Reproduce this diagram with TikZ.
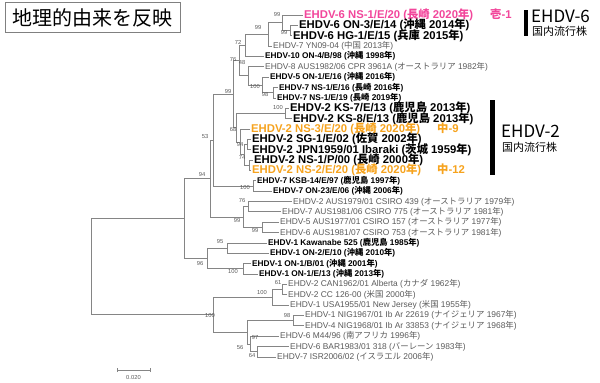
\documentclass[tikz,border=0pt]{standalone}
\usepackage{fontspec}
\setmainfont{Liberation Sans}
\newfontfamily\jp{Noto Sans CJK JP}
\newcommand\J[1]{{\jp #1}}
\definecolor{pinkc}{HTML}{F2469B}
\definecolor{orangec}{HTML}{F6A31E}
\definecolor{linec}{HTML}{858585}
\definecolor{grayt}{HTML}{5A5A5A}
\begin{document}
\begin{tikzpicture}[x=1pt,y=-1pt,
  tree/.style={draw=linec,line width=0.75pt},
  big/.style={anchor=west,inner sep=0pt,text height=8.5pt,text depth=1.5pt,font=\fontsize{11.3}{12}\selectfont\bfseries},
  sb/.style={anchor=west,inner sep=0pt,text height=6.6pt,text depth=1.5pt,font=\fontsize{8.3}{9}\selectfont\bfseries},
  gr/.style={anchor=west,inner sep=0pt,text height=6.6pt,text depth=1.5pt,text=grayt,font=\fontsize{8.4}{9}\selectfont},
  bs/.style={inner sep=0pt,text=grayt,font=\fontsize{5.8}{6}\selectfont}]
\useasboundingbox (0,0) rectangle (600,383);
% title
\node[draw=gray,line width=0.8pt,minimum width=175pt,minimum height=29.5pt,inner sep=0pt,font=\fontsize{20}{22}\selectfont\jp] (title) at (92.5,17.5) {地理的由来を反映};
% leaves
\node[big,text=pinkc] (L1) at (304,15.00) {EHDV-6 NS-1/E/20 (\J{長崎} 2020\J{年})};
\node[big] (L2) at (299,25.36) {EHDV-6 ON-3/E/14 (\J{沖縄} 2014\J{年})};
\node[big] (L3) at (293,35.72) {EHDV-6 HG-1/E/15 (\J{兵庫} 2015\J{年})};
\node[gr] (L4) at (273,46.08) {EHDV-7 YN09-04 (\J{中国} 2013\J{年})};
\node[sb] (L5) at (265,56.44) {EHDV-10 ON-4/B/98 (\J{沖縄} 1998\J{年})};
\node[gr] (L6) at (265,66.80) {EHDV-8 AUS1982/06 CPR 3961A (\J{オーストラリア} 1982\J{年})};
\node[sb] (L7) at (270,77.16) {EHDV-5 ON-1/E/16 (\J{沖縄} 2016\J{年})};
\node[sb] (L8) at (279,87.52) {EHDV-7 NS-1/E/16 (\J{長崎} 2016\J{年})};
\node[sb] (L9) at (277,97.88) {EHDV-7 NS-1/E/19 (\J{長崎} 2019\J{年})};
\node[big] (L10) at (290,108.24) {EHDV-2 KS-7/E/13 (\J{鹿児島} 2013\J{年})};
\node[big] (L11) at (293,118.60) {EHDV-2 KS-8/E/13 (\J{鹿児島} 2013\J{年})};
\node[big,text=orangec] (L12) at (251,128.96) {EHDV-2 NS-3/E/20 (\J{長崎} 2020\J{年})};
\node[big] (L13) at (252,139.32) {EHDV-2 SG-1/E/02 (\J{佐賀} 2002\J{年})};
\node[big] (L14) at (252,149.68) {EHDV-2 JPN1959/01 Ibaraki (\J{茨城} 1959\J{年})};
\node[big] (L15) at (254,160.04) {EHDV-2 NS-1/P/00 (\J{長崎} 2000\J{年})};
\node[big,text=orangec] (L16) at (252,170.40) {EHDV-2 NS-2/E/20 (\J{長崎} 2020\J{年})};
\node[sb] (L17) at (257,180.76) {EHDV-7 KSB-14/E/97 (\J{鹿児島} 1997\J{年})};
\node[sb] (L18) at (273,191.12) {EHDV-7 ON-23/E/06 (\J{沖縄} 2006\J{年})};
\node[gr] (L19) at (293,201.48) {EHDV-2 AUS1979/01 CSIRO 439 (\J{オーストラリア} 1979\J{年})};
\node[gr] (L20) at (282,211.84) {EHDV-7 AUS1981/06 CSIRO 775 (\J{オーストラリア} 1981\J{年})};
\node[gr] (L21) at (280,222.20) {EHDV-5 AUS1977/01 CSIRO 157 (\J{オーストラリア} 1977\J{年})};
\node[gr] (L22) at (280,232.56) {EHDV-6 AUS1981/07 CSIRO 753 (\J{オーストラリア} 1981\J{年})};
\node[sb] (L23) at (268,242.92) {EHDV-1 Kawanabe 525 (\J{鹿児島} 1985\J{年})};
\node[sb] (L24) at (270,253.28) {EHDV-1 ON-2/E/10 (\J{沖縄} 2010\J{年})};
\node[sb] (L25) at (252,263.64) {EHDV-1 ON-1/B/01 (\J{沖縄} 2001\J{年})};
\node[sb] (L26) at (259,274.00) {EHDV-1 ON-1/E/13 (\J{沖縄} 2013\J{年})};
\node[gr] (L27) at (288,284.36) {EHDV-2 CAN1962/01 Alberta (\J{カナダ} 1962\J{年})};
\node[gr] (L28) at (288,294.72) {EHDV-2 CC 126-00 (\J{米国} 2000\J{年})};
\node[gr] (L29) at (290,305.08) {EHDV-1 USA1955/01 New Jersey (\J{米国} 1955\J{年})};
\node[gr] (L30) at (305,315.44) {EHDV-1 NIG1967/01 Ib Ar 22619 (\J{ナイジェリア} 1967\J{年})};
\node[gr] (L31) at (305,325.80) {EHDV-4 NIG1968/01 Ib Ar 33853 (\J{ナイジェリア} 1968\J{年})};
\node[gr] (L32) at (280,336.16) {EHDV-6 M44/96 (\J{南アフリカ} 1996\J{年})};
\node[gr] (L33) at (290,346.52) {EHDV-6 BAR1983/01 318 (\J{バーレーン} 1983\J{年})};
\node[gr] (L34) at (277,356.88) {EHDV-7 ISR2006/02 (\J{イスラエル} 2006\J{年})};
% internal nodes
\coordinate (Na) at (290,30.54);
\coordinate (Nb) at (282,22.77);
\coordinate (Nc) at (268,34.43);
\coordinate (Nd) at (245,45.43);
\coordinate (Nh) at (273,92.70);
\coordinate (Ng) at (262,84.93);
\coordinate (N48) at (248,75.87);
\coordinate (Ne) at (239,60.65);
\coordinate (Nks) at (285,113.42);
\coordinate (N94) at (247,144.50);
\coordinate (N74) at (249,165.22);
\coordinate (Nx) at (244,154.86);
\coordinate (N68) at (240,141.91);
\coordinate (Ndom) at (236,127.67);
\coordinate (N99) at (233,94.16);
\coordinate (Nkon) at (253,185.94);
\coordinate (N53) at (213,140.05);
\coordinate (N76) at (248,206.66);
\coordinate (N99b) at (262,227.38);
\coordinate (N99a) at (243,217.02);
\coordinate (A1) at (210,178.54);
\coordinate (N95) at (227,248.10);
\coordinate (N100e) at (243,268.82);
\coordinate (A2) at (207,258.46);
\coordinate (A) at (184,218.50);
\coordinate (N61) at (282,289.54);
\coordinate (N100c) at (272,297.31);
\coordinate (N98) at (293,320.62);
\coordinate (Nbi) at (257,351.70);
\coordinate (Nc3) at (250,343.93);
\coordinate (B2) at (247,332.28);
\coordinate (B) at (213,314.79);
\coordinate (R) at (91,266.65);
% edges
\foreach \p/\c in {R/A,R/B,A/A1,A/A2,A1/N53,A1/N99a,N53/N99,N53/Nkon,N99/Ne,N99/Ndom,
  Ne/Nd,Ne/N48,Nd/Nc,Nc/Nb,Nb/Na,N48/Ng,Ng/Nh,Ndom/Nks,Ndom/N68,N68/Nx,Nx/N94,Nx/N74,
  N99a/N76,N99a/N99b,A2/N95,A2/N100e,B/N100c,B/B2,N100c/N61,B2/N98,B2/Nc3,Nc3/Nbi}
  \draw[tree] (\p) |- (\c);
\foreach \p/\c in {Nb/L1,Na/L2,Na/L3,Nc/L4,Nd/L5,N48/L6,Ng/L7,Nh/L8,Nh/L9,Nks/L10,Nks/L11,
  N68/L12,N94/L13,N94/L14,N74/L15,N74/L16,Nkon/L17,Nkon/L18,N76/L19,N76/L20,N99b/L21,N99b/L22,
  N95/L23,N95/L24,N100e/L25,N100e/L26,N61/L27,N61/L28,N100c/L29,N98/L30,N98/L31,Nc3/L32,Nbi/L33,Nbi/L34}
  \draw[tree] (\p) |- ([xshift=-1.5pt]\c.west);
% bootstrap values
\foreach \t/\x/\y in {99/277/15,99/284/33,99/258/28,72/238/42,76/233/60,48/242/63,100/255/87,98/265/95,
  99/228/92,100/278/108,68/233/130,53/205/137,94/240/145,74/242/158,94/202/175,100/245/188,
  76/242/201,99/237/221,99/255/231,95/220/242,96/200/263,100/233/272,61/278/283,100/262/292,
  100/210/315,98/287/315,97/255/337,56/240/347,64/252/355}
  \node[bs] at (\x,\y) {\t};
% sample tags
\node[big,text=pinkc] (t1) at (490,15.00) {\J{壱}-1};
\node[big,text=orangec] (t2) at (437,128.96) {\J{中}-9};
\node[big,text=orangec] (t3) at (437,170.40) {\J{中}-12};
% group labels
\fill (524,10) rectangle (528,36);
\node[anchor=west,inner sep=0pt,font=\fontsize{17}{18}\selectfont\jp] (g6) at (531,16) {EHDV-6};
\node[anchor=west,inner sep=0pt,font=\fontsize{11}{12}\selectfont\jp] (g6b) at (532,31.5) {国内流行株};
\fill (490,100) rectangle (495,175);
\node[anchor=west,inner sep=0pt,font=\fontsize{17}{18}\selectfont\jp] (g2) at (501,131) {EHDV-2};
\node[anchor=west,inner sep=0pt,font=\fontsize{11}{12}\selectfont\jp] (g2b) at (502,147.5) {国内流行株};
% scale bar
\coordinate (s1) at (117,370);
\coordinate (s2) at (150,370);
\draw[tree] (s1) -- (s2);
\draw[tree] ([yshift=-2pt]s1) -- ([yshift=2pt]s1);
\draw[tree] ([yshift=-2pt]s2) -- ([yshift=2pt]s2);
\node[bs] (sl) at (133.5,377) {0.020};
\end{tikzpicture}
\end{document}
